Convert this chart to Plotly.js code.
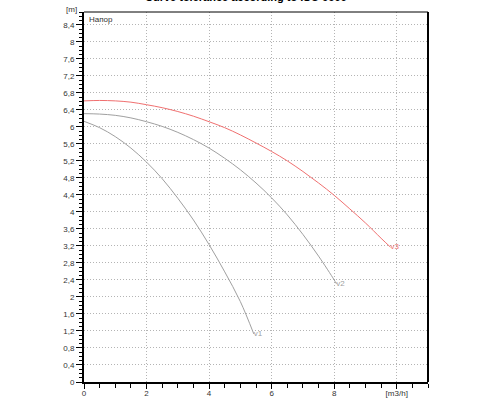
<!DOCTYPE html>
<html>
<head>
<meta charset="utf-8">
<script src="https://cdn.plot.ly/plotly-3.0.1.min.js"></script>
<style>html,body{margin:0;padding:0;background:#fff;}#chart{width:500px;height:400px;}</style>
</head>
<body>
<div id="chart"></div>
<script>
// Curve v1
const v1X = [0, 0.5, 1, 1.5, 2, 2.5, 3, 3.5, 4, 4.5, 5, 5.43];
const v1Y = [6.13, 5.98, 5.77, 5.50, 5.17, 4.78, 4.32, 3.81, 3.23, 2.59, 1.89, 1.13];
// Curve v2
const v2X = [0, 0.5, 1, 1.5, 2, 2.5, 3, 3.5, 4, 4.5, 5, 5.5, 6, 6.5, 7, 7.5, 8, 8.07];
const v2Y = [6.31, 6.30, 6.27, 6.21, 6.12, 6.01, 5.87, 5.70, 5.50, 5.26, 4.99, 4.68, 4.33, 3.93, 3.47, 2.96, 2.40, 2.31];
// Curve v3
const v3X = [0, 0.5, 1, 1.5, 2, 2.5, 3, 3.5, 4, 4.5, 5, 5.5, 6, 6.5, 7, 7.5, 8, 8.5, 9, 9.5, 9.8];
const v3Y = [6.61, 6.62, 6.61, 6.58, 6.52, 6.45, 6.36, 6.25, 6.12, 5.98, 5.81, 5.62, 5.42, 5.20, 4.95, 4.68, 4.39, 4.07, 3.74, 3.38, 3.17];
const curveNames = ['v1', 'v2', 'v3'];

// Tick labels
const xTickVals = [0, 2, 4, 6, 8, 10];
const xTickText = ['0', '2', '4', '6', '8', '[m3/h]'];
const yTickVals = [0, 0.4, 0.8, 1.2, 1.6, 2, 2.4, 2.8, 3.2, 3.6, 4, 4.4, 4.8, 5.2, 5.6, 6, 6.4, 6.8, 7.2, 7.6, 8, 8.4];
const yTickText = ['0', '0,4', '0,8', '1,2', '1,6', '2', '2,4', '2,8', '3,2', '3,6', '4', '4,4', '4,8', '5,2', '5,6', '6', '6,4', '6,8', '7,2', '7,6', '8', '8,4'];
const titleText = 'Curve tolerance according to ISO 9906';
const yUnit = '[m]';
const seriesLabel = 'Напор';

function curve(xs, ys, name, color) {
  const txt = xs.map((_, i) => i === xs.length - 1 ? name : '');
  return {
    x: xs, y: ys, name: name, type: 'scatter', mode: 'lines+text',
    line: {color: color, width: 1, shape: 'spline', smoothing: 1},
    text: txt, textposition: 'middle right',
    textfont: {family: 'Liberation Sans, Arial, sans-serif', size: 8, color: color},
    cliponaxis: false, hoverinfo: 'skip'
  };
}

const data = [
  curve(v1X, v1Y, curveNames[0], '#a0a0a0'),
  curve(v2X, v2Y, curveNames[1], '#a0a0a0'),
  curve(v3X, v3Y, curveNames[2], '#f07070')
];

const layout = {
  width: 500, height: 400,
  margin: {l: 84, r: 72, t: 12, b: 18, pad: 0},
  paper_bgcolor: '#fff', plot_bgcolor: '#fff',
  showlegend: false,
  font: {family: 'Liberation Sans, Arial, sans-serif', size: 8, color: '#333'},
  xaxis: {
    range: [0, 11], tickmode: 'array', tickvals: xTickVals, ticktext: xTickText,
    ticks: 'outside', ticklen: 5, tickwidth: 1, tickcolor: '#000',
    ticklabelstandoff: -3,
    showline: true, linecolor: '#000', linewidth: 2,
    showgrid: true, gridcolor: '#b4b4b4', griddash: '1px,2px', gridwidth: 1,
    zeroline: false, tickfont: {size: 8, color: '#333'},
    minor: {dtick: 0.5, tick0: 0, ticks: 'outside', ticklen: 4, tickcolor: '#000', showgrid: false}
  },
  yaxis: {
    range: [0, 8.7], tickmode: 'array', tickvals: yTickVals, ticktext: yTickText,
    ticks: 'outside', ticklen: 6, tickwidth: 1, tickcolor: '#000',
    showline: true, linecolor: '#000', linewidth: 2,
    showgrid: true, gridcolor: '#b4b4b4', griddash: '1px,2px', gridwidth: 1,
    zeroline: false, tickfont: {size: 8, color: '#333'},
    minor: {dtick: 0.1, tick0: 0, ticks: 'outside', ticklen: 3, tickcolor: '#000', showgrid: false}
  },
  shapes: [
    {type: 'line', xref: 'paper', yref: 'paper', x0: 0, x1: 1, y0: 1, y1: 1, line: {color: '#000', width: 1}},
    {type: 'line', xref: 'paper', yref: 'paper', x0: 1, x1: 1, y0: 0, y1: 1, line: {color: '#000', width: 2}}
  ],
  annotations: [
    {text: '<b>' + titleText + '</b>', xref: 'paper', yref: 'paper', x: 0.47, y: 1.018,
     xanchor: 'center', yanchor: 'bottom', showarrow: false,
     font: {size: 11, color: '#000', family: 'Liberation Sans, Arial, sans-serif'}},
    {text: yUnit, xref: 'paper', yref: 'paper', x: 0, y: 1.0, xshift: -5, yshift: 3,
     xanchor: 'right', yanchor: 'middle', showarrow: false, font: {size: 8, color: '#333'}},
    {text: seriesLabel, xref: 'paper', yref: 'paper', x: 0, y: 1, xshift: 3, yshift: -1,
     xanchor: 'left', yanchor: 'top', showarrow: false, font: {size: 8, color: '#333'}}
  ]
};

Plotly.newPlot('chart', data, layout, {staticPlot: true, displayModeBar: false});
</script>
</body>
</html>
